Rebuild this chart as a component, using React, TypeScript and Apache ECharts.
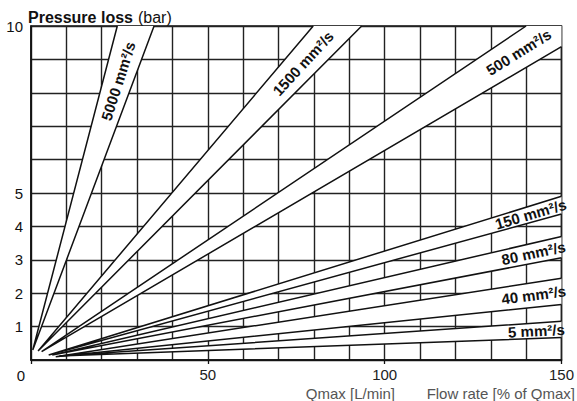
import React, { useEffect, useRef } from "react";
import * as echarts from "echarts";

// Axis extents / ticks
const xMin = 0;
const xMax = 150;
const yMin = 0;
const yMax = 10;
const xTickLabels = [50, 100, 150];
const yTickLabels = [1, 2, 3, 4, 5, 10];

// Viscosity bands (wedges): apex point, end of steeper edge, end of flatter edge
const bandNames = ["5000 mm²/s", "1500 mm²/s", "500 mm²/s", "150 mm²/s", "80 mm²/s", "40 mm²/s", "5 mm²/s"];
const apexX = [0.5, 2, 3, 5, 6, 7, 8];
const apexY = [0.3, 0.27, 0.25, 0.15, 0.15, 0.1, 0.12];
const upperEndX = [24.4, 79.8, 140, 150, 150, 150, 150];
const upperEndY = [10, 10, 10, 4.9, 3.7, 2.45, 1.16];
const lowerEndX = [34.8, 93.5, 150, 150, 150, 150, 150];
const lowerEndY = [10, 10, 9.38, 4.37, 3.06, 1.66, 0.67];
// relative position of each label along the band's centre line
const labelT = [0.83, 0.885, 0.95, 0.94, 0.945, 0.945, 0.95];

const FONT = '"Liberation Sans", Arial, Helvetica, sans-serif';

export default function App() {
  const ref = useRef<HTMLDivElement>(null);

  useEffect(() => {
    if (!ref.current) return;
    const chart = echarts.init(ref.current, undefined, { renderer: "svg" });

    const bandData = bandNames.map((_, i) => [
      apexX[i], apexY[i], upperEndX[i], upperEndY[i], lowerEndX[i], lowerEndY[i], i,
    ]);

    const bandPoints = (api: any) => {
      const ax = api.value(0), ay = api.value(1);
      const ux = api.value(2), uy = api.value(3);
      const lx = api.value(4), ly = api.value(5);
      const a = api.coord([ax, ay]);
      const u = api.coord([ux, uy]);
      const l = api.coord([lx, ly]);
      const pts = [a, u];
      if (uy >= yMax && lx >= xMax && ly < yMax) pts.push(api.coord([xMax, yMax]));
      pts.push(l);
      return { a, u, l, pts };
    };

    const option: any = {
      animation: false,
      backgroundColor: "#fff",
      textStyle: { fontFamily: FONT },
      title: {
        text: "{a|Pressure loss} {b|(bar)}",
        left: 23,
        top: 3,
        textStyle: {
          rich: {
            a: { fontFamily: FONT, fontSize: 16, fontWeight: "bold", color: "#111" },
            b: { fontFamily: FONT, fontSize: 16, fontWeight: "normal", color: "#111" },
          },
        },
      },
      grid: {
        left: 31,
        right: 3,
        top: 26,
        bottom: 41,
        show: true,
        borderColor: "#111",
        borderWidth: 1.5,
        backgroundColor: "transparent",
      },
      xAxis: [
        {
          type: "value",
          min: xMin,
          max: xMax,
          interval: 10,
          axisLine: { show: true, lineStyle: { color: "#111", width: 1.5 } },
          axisTick: { show: false },
          axisLabel: { show: false },
          splitLine: { show: true, lineStyle: { color: "#222", width: 1.4 } },
        },
        {
          type: "value",
          min: xMin,
          max: xMax,
          interval: 50,
          position: "bottom",
          axisLine: { show: false },
          axisTick: { show: true, length: 4, lineStyle: { color: "#111", width: 1.3 } },
          axisLabel: {
            show: true,
            margin: 7,
            fontSize: 15,
            color: "#222",
            fontFamily: FONT,
            formatter: (v: number) => (xTickLabels.includes(v) ? String(v) : ""),
          },
          splitLine: { show: false },
        },
      ],
      yAxis: {
        type: "value",
        min: yMin,
        max: yMax,
        interval: 1,
        axisLine: { show: true, lineStyle: { color: "#111", width: 1.5 } },
        axisTick: { show: false },
        axisLabel: {
          margin: 8,
          fontSize: 15,
          color: "#111",
          fontFamily: FONT,
          formatter: (v: number) => (yTickLabels.includes(v) ? String(v) : ""),
        },
        splitLine: { show: true, lineStyle: { color: "#222", width: 1.4 } },
      },
      graphic: [
        {
          type: "text",
          x: 21,
          y: 375,
          style: { text: "0", fontFamily: FONT, fontSize: 15, fill: "#111", align: "center", verticalAlign: "middle" },
        },
        {
          type: "text",
          x: 395,
          y: 393,
          style: { text: "Qmax [L/min]", fontFamily: FONT, fontSize: 15, fill: "#555", align: "right", verticalAlign: "middle" },
        },
        {
          type: "text",
          x: 575,
          y: 393,
          style: { text: "Flow rate [% of Qmax]", fontFamily: FONT, fontSize: 15, fill: "#555", align: "right", verticalAlign: "middle" },
        },
      ],
      series: [
        {
          type: "custom",
          xAxisIndex: 0,
          yAxisIndex: 0,
          encode: { x: [0, 2, 4], y: [1, 3, 5] },
          data: bandData,
          z: 5,
          renderItem: (params: any, api: any) => {
            const { pts } = bandPoints(api);
            return {
              type: "polygon",
              shape: { points: pts },
              style: { fill: "#fff", stroke: "none" },
            };
          },
        },
        {
          type: "custom",
          xAxisIndex: 0,
          yAxisIndex: 0,
          encode: { x: [0, 2, 4], y: [1, 3, 5] },
          data: bandData,
          z: 6,
          renderItem: (params: any, api: any) => {
            const { a, u, l } = bandPoints(api);
            const i = api.value(6);
            const mid = [(u[0] + l[0]) / 2, (u[1] + l[1]) / 2];
            const t = labelT[i];
            const cx = a[0] + (mid[0] - a[0]) * t;
            const cy = a[1] + (mid[1] - a[1]) * t;
            const ang = Math.atan2(a[1] - mid[1], mid[0] - a[0]);
            return {
              type: "group",
              children: [
                {
                  type: "polyline",
                  shape: { points: [u, a, l] },
                  style: { stroke: "#111", lineWidth: 1.5, fill: "none" },
                },
                {
                  type: "text",
                  x: cx,
                  y: cy,
                  rotation: ang,
                  style: {
                    text: bandNames[i],
                    fontFamily: FONT,
                    fontSize: 15,
                    fontWeight: "bold",
                    fill: "#111",
                    align: "center",
                    verticalAlign: "middle",
                  },
                },
              ],
            };
          },
        },
      ],
    };

    chart.setOption(option);
    return () => chart.dispose();
  }, []);

  return (
    <div
      ref={ref}
      style={{ position: "fixed", left: 0, top: 0, width: 577, height: 401, background: "#fff" }}
    />
  );
}
